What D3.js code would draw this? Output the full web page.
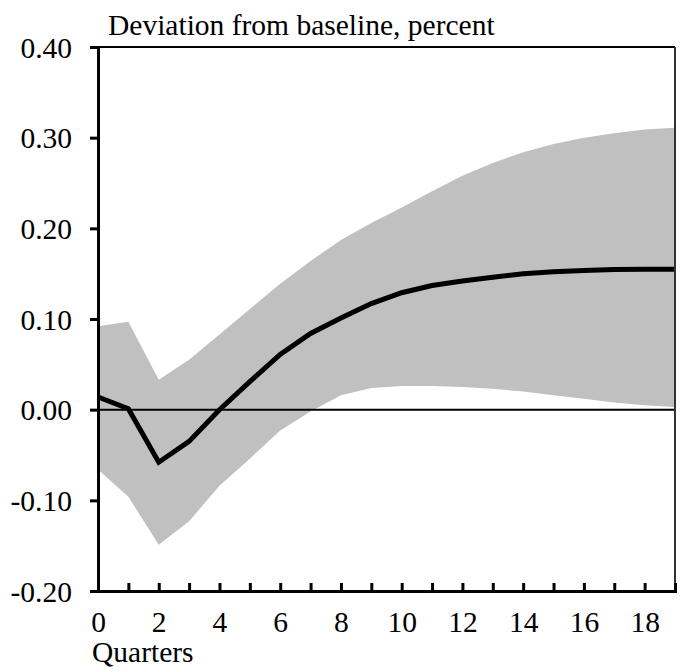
<!DOCTYPE html>
<html>
<head>
<meta charset="utf-8">
<script src="https://cdn.jsdelivr.net/npm/d3@7"></script>
<style>
  body { margin: 0; background: #fff; }
</style>
</head>
<body>
<div class="canvas"></div>
<script>
// quarters after the shock
const quarters = d3.range(0, 20);
// central response, percent deviation from baseline
const response = [0.014, 0.001, -0.058, -0.035, 0.000, 0.031, 0.061, 0.084, 0.101, 0.117,
                  0.129, 0.137, 0.142, 0.146, 0.150, 0.152, 0.1535, 0.1545, 0.155, 0.155];
// confidence band
const upper = [0.092, 0.097, 0.033, 0.055, 0.083, 0.111, 0.139, 0.164, 0.187, 0.206,
               0.223, 0.241, 0.258, 0.272, 0.284, 0.293, 0.300, 0.305, 0.309, 0.311];
const lower = [-0.066, -0.096, -0.149, -0.123, -0.084, -0.054, -0.023, -0.002, 0.016, 0.024,
               0.026, 0.026, 0.025, 0.023, 0.020, 0.016, 0.012, 0.008, 0.005, 0.003];
const yTicks = [-0.2, -0.1, 0, 0.1, 0.2, 0.3, 0.4];
const xTickLabels = [0, 2, 4, 6, 8, 10, 12, 14, 16, 18];

const width = 683, height = 671;
const margin = { top: 47, right: 8, bottom: 80, left: 98 };
const serif = '"Liberation Serif", "Times New Roman", Times, serif';
const fontSize = 29.5;

const x = d3.scaleLinear().domain([0, 19]).range([margin.left, width - margin.right]);
const y = d3.scaleLinear().domain([-0.2, 0.4]).range([height - margin.bottom, margin.top]);

const svg = d3.select(".canvas").append("svg")
  .attr("width", width)
  .attr("height", height);

const data = quarters.map((q, i) => ({ q, mid: response[i], hi: upper[i], lo: lower[i] }));

// band
svg.append("path")
  .datum(data)
  .attr("fill", "#c0c0c0")
  .attr("d", d3.area().x(d => x(d.q)).y0(d => y(d.lo)).y1(d => y(d.hi)));

// zero line
svg.append("line")
  .attr("x1", x(0)).attr("x2", x(19))
  .attr("y1", y(0)).attr("y2", y(0))
  .attr("stroke", "#000").attr("stroke-width", 2);

// response line
svg.append("path")
  .datum(data)
  .attr("fill", "none")
  .attr("stroke", "#000")
  .attr("stroke-width", 5)
  .attr("d", d3.line().x(d => x(d.q)).y(d => y(d.mid)));

// frame top and right
svg.append("line")
  .attr("x1", x(0)).attr("x2", x(19)).attr("y1", y(0.4)).attr("y2", y(0.4))
  .attr("stroke", "#000").attr("stroke-width", 2);
svg.append("line")
  .attr("x1", x(19)).attr("x2", x(19)).attr("y1", y(0.4)).attr("y2", y(-0.2))
  .attr("stroke", "#333").attr("stroke-width", 2);

// y axis
const fmt = d => d3.format(".2f")(d).replace("\u2212", "-");
const yAxis = svg.append("g")
  .attr("transform", `translate(${margin.left},0)`)
  .call(d3.axisLeft(y).tickValues(yTicks).tickFormat(fmt).tickSize(8).tickPadding(18));
yAxis.attr("font-family", serif).attr("font-size", fontSize);
yAxis.select(".domain").attr("stroke-width", 3);
yAxis.selectAll(".tick line").attr("stroke-width", 3);
yAxis.selectAll("text").style("font-family", serif).attr("dy", "0.34em");

// x axis: ticks every quarter pointing inward, labels on even quarters
const xAxis = svg.append("g")
  .attr("transform", `translate(0,${y(-0.2)})`)
  .call(d3.axisBottom(x).tickValues(quarters).tickSize(-8).tickPadding(20)
    .tickFormat(d => xTickLabels.includes(d) ? d : ""));
xAxis.attr("font-family", serif).attr("font-size", fontSize);
xAxis.select(".domain").attr("stroke-width", 3);
xAxis.selectAll(".tick line").attr("stroke-width", 3);
xAxis.selectAll("text").style("font-family", serif);

// titles
svg.append("text")
  .attr("x", 108).attr("y", 35)
  .style("font-family", serif)
  .attr("font-size", fontSize)
  .text("Deviation from baseline, percent");

svg.append("text")
  .attr("x", 92).attr("y", 662)
  .style("font-family", serif)
  .attr("font-size", fontSize)
  .text("Quarters");
</script>
</body>
</html>
